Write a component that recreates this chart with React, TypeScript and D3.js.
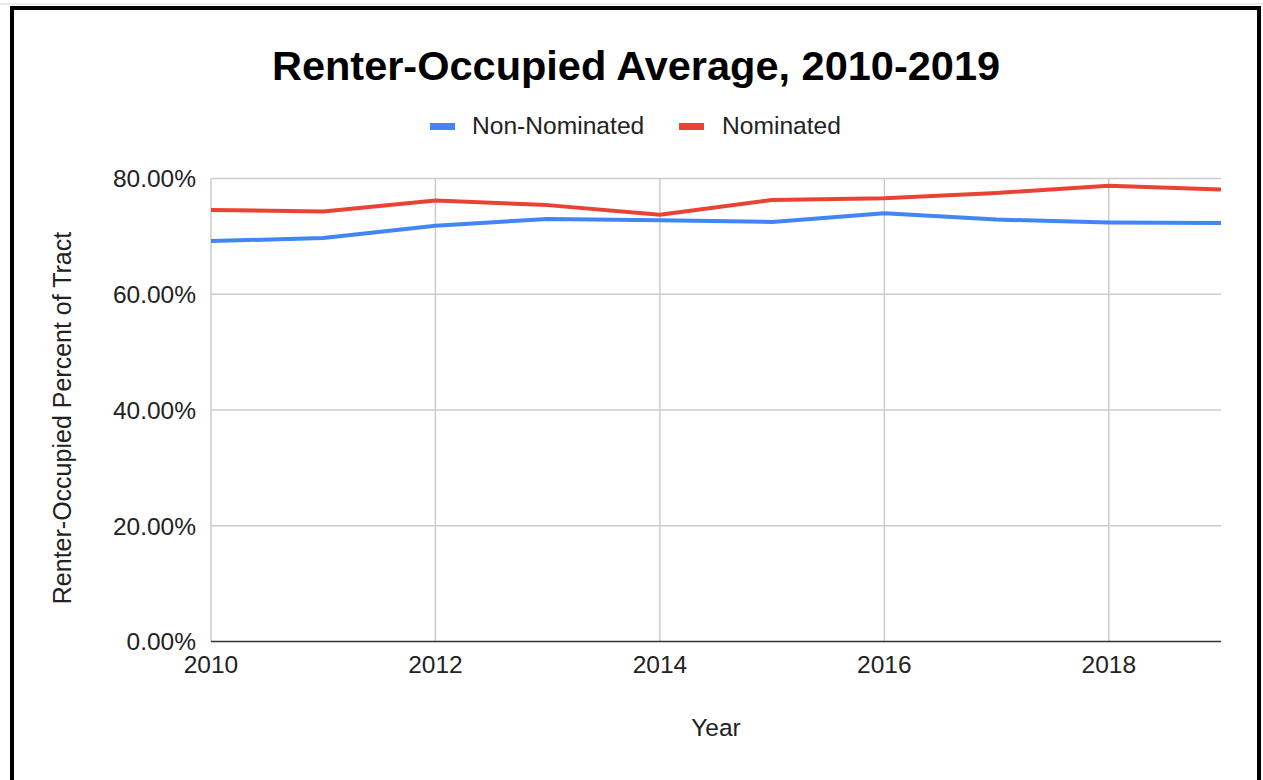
import React from "react";
import * as d3 from "d3";

const years = [2010, 2011, 2012, 2013, 2014, 2015, 2016, 2017, 2018, 2019];
const nonNominated = [69.2, 69.7, 71.85, 73.0, 72.8, 72.5, 74.0, 72.9, 72.4, 72.3];
const nominated = [74.55, 74.3, 76.2, 75.4, 73.75, 76.3, 76.6, 77.5, 78.75, 78.1];
const yTicks = [0, 20, 40, 60, 80];
const xTicks = [2010, 2012, 2014, 2016, 2018];
const seriesNames = ["Non-Nominated", "Nominated"];
const seriesColors = ["#4285f4", "#ea4335"];

const W = 1263;
const H = 780;
const margin = { top: 178.5, right: 42, bottom: 138.5, left: 211 };
const font = "'Liberation Sans', Arial, Helvetica, sans-serif";

function App() {
  const x = d3
    .scaleLinear()
    .domain([2010, 2019])
    .range([margin.left, W - margin.right]);
  const y = d3
    .scaleLinear()
    .domain([0, 80])
    .range([H - margin.bottom, margin.top]);

  // one path per series
  const line = d3
    .line<number>()
    .x((d, i) => x(years[i]))
    .y((d) => y(d));
  const series = [nonNominated, nominated];

  return (
    <svg
      width={W}
      height={H}
      style={{ position: "absolute", left: 0, top: 0, background: "#fff" }}
      fontFamily={font}
    >
      <rect x={0} y={0} width={W} height={H} fill="#fff" />
      <line x1={0} x2={W} y1={4} y2={4} stroke="#d9d9d9" strokeWidth={1} />
      <rect x={12} y={8} width={1247} height={800} fill="none" stroke="#000" strokeWidth={4} />

      <text x={636} y={80} textAnchor="middle" fontSize={41.5} fontWeight="bold" fill="#000">
        Renter-Occupied Average, 2010-2019
      </text>

      {/* legend */}
      <g>
        <rect x={430} y={123} width={25} height={7} fill={seriesColors[0]} />
        <text x={472} y={134} fontSize={24.6} fill="#222">{seriesNames[0]}</text>
        <rect x={679} y={123} width={25} height={7} fill={seriesColors[1]} />
        <text x={722} y={134} fontSize={24.6} fill="#222">{seriesNames[1]}</text>
      </g>

      {/* grid */}
      {yTicks.filter((t) => t > 0).map((t) => (
        <line key={"hy" + t} x1={x(2010)} x2={x(2019)} y1={y(t)} y2={y(t)} stroke="#cccccc" strokeWidth={1.5} />
      ))}
      {xTicks.map((t) => (
        <line key={"vx" + t} x1={x(t)} x2={x(t)} y1={y(80)} y2={y(0)} stroke="#cccccc" strokeWidth={1.5} />
      ))}
      <line x1={x(2010)} x2={x(2019)} y1={y(0)} y2={y(0)} stroke="#333" strokeWidth={1.5} />

      {/* y tick labels */}
      {yTicks.map((t) => (
        <text key={"ty" + t} x={margin.left - 15} y={y(t)} dy="0.36em" textAnchor="end" fontSize={24.5} fill="#222">
          {t.toFixed(2) + "%"}
        </text>
      ))}
      {/* x tick labels */}
      {xTicks.map((t) => (
        <text key={"tx" + t} x={x(t)} y={673} textAnchor="middle" fontSize={24.5} fill="#222">
          {t}
        </text>
      ))}

      {series.map((s, i) => (
        <path
          key={seriesNames[i]}
          d={line(s) || ""}
          fill="none"
          stroke={seriesColors[i]}
          strokeWidth={4}
          strokeLinejoin="round"
        />
      ))}

      <text x={716} y={736} textAnchor="middle" fontSize={24.5} fill="#222">Year</text>
      <text
        transform={`translate(71, 418) rotate(-90)`}
        textAnchor="middle"
        fontSize={25}
        fill="#222"
      >
        Renter-Occupied Percent of Tract
      </text>
    </svg>
  );
}

export default App;
